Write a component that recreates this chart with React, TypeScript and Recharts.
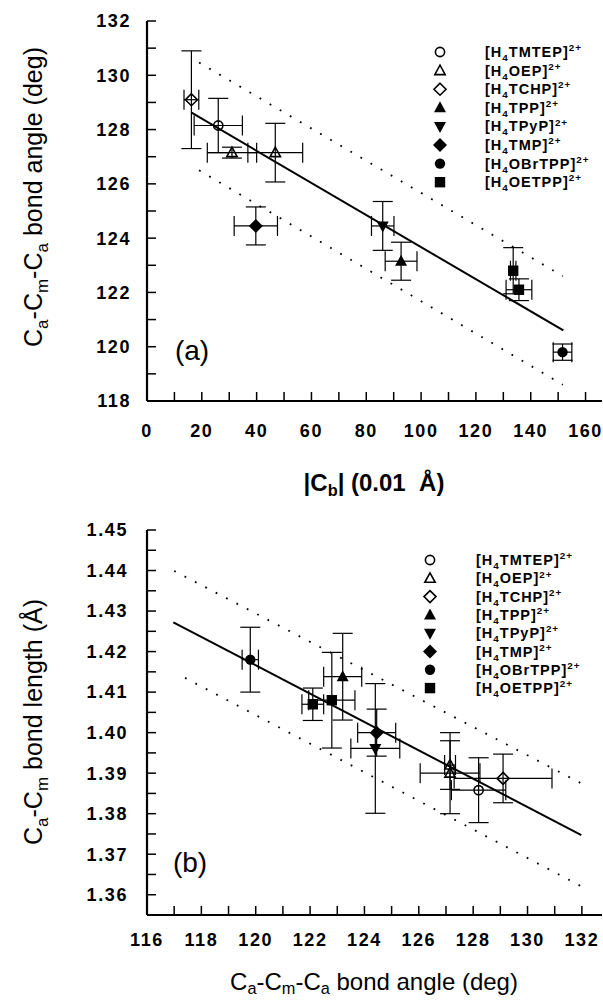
import React from 'react';
import { ScatterChart, Scatter, XAxis, YAxis, ErrorBar, ReferenceLine } from 'recharts';

const FONT = '"Liberation Sans", Arial, Helvetica, sans-serif';

// ---------- series (legend order) ----------
const seriesNames = ['TMTEP', 'OEP', 'TCHP', 'TPP', 'TPyP', 'TMP', 'OBrTPP', 'OETPP'];
const seriesShapes = ['circleOpen', 'triangleOpen', 'diamondOpen', 'triangleFilled', 'triangleDownFilled', 'diamondFilled', 'circleFilled', 'squareFilled'];

// ---------- panel (a): x = |Cb| (0.01 Å), y = Ca-Cm-Ca angle (deg) ----------
const aTMTEP = [{ x: 26, y: 128.15, ex: 8.8, ey: 1.0 }];
const aOEP = [
  { x: 31, y: 127.15, ex: 9, ey: 0.2 },
  { x: 46.8, y: 127.15, ex: 10, ey: 1.08 },
];
const aTCHP = [{ x: 16.2, y: 129.1, ex: 2.7, ey: 1.8 }];
const aTPP = [{ x: 92.7, y: 123.15, ex: 5.8, ey: 0.7 }];
const aTPyP = [{ x: 86, y: 124.45, ex: 4.1, ey: 0.9 }];
const aTMP = [{ x: 39.7, y: 124.45, ex: 7.9, ey: 0.7 }];
const aOBrTPP = [{ x: 151.6, y: 119.8, ex: 3.4, ey: 0.3 }];
const aOETPP = [
  { x: 133.6, y: 122.8, ex: 1.0, ey: 0.85 },
  { x: 135.7, y: 122.1, ex: 4.7, ey: 0.4 },
];
const aFit = [{ x: 16.1, y: 128.63 }, { x: 151.9, y: 120.6 }];
const aUpper = [{ x: 19, y: 130.47 }, { x: 151.7, y: 122.6 }];
const aLower = [{ x: 19, y: 126.5 }, { x: 151.7, y: 118.6 }];
const aXDomain = [0, 166];
const aYDomain = [118, 132];
const aXTicks = [0, 10, 20, 30, 40, 50, 60, 70, 80, 90, 100, 110, 120, 130, 140, 150, 160];
const aXLabels = [0, 20, 40, 60, 80, 100, 120, 140, 160];
const aYTicks = [118, 119, 120, 121, 122, 123, 124, 125, 126, 127, 128, 129, 130, 131, 132];
const aYLabels = [118, 120, 122, 124, 126, 128, 130, 132];

// ---------- panel (b): x = Ca-Cm-Ca angle (deg), y = Ca-Cm (Å) ----------
const bTMTEP = [{ x: 128.2, y: 1.3858, ex: 1.0, ey: 0.008 }];
const bOEP = [
  { x: 127.15, y: 1.390, ex: 1.1, ey: 0.010 },
  { x: 127.15, y: 1.392, ex: 0.2, ey: 0.006 },
];
const bTCHP = [{ x: 129.1, y: 1.3887, ex: 1.8, ey: 0.006 }];
const bTPP = [{ x: 123.2, y: 1.4138, ex: 0.7, ey: 0.0107 }];
const bTPyP = [{ x: 124.4, y: 1.3961, ex: 0.9, ey: 0.016 }];
const bTMP = [{ x: 124.45, y: 1.400, ex: 0.7, ey: 0.0058 }];
const bOBrTPP = [{ x: 119.8, y: 1.418, ex: 0.3, ey: 0.008 }];
const bOETPP = [
  { x: 122.1, y: 1.407, ex: 0.4, ey: 0.004 },
  { x: 122.8, y: 1.408, ex: 0.85, ey: 0.0118 },
];
const bFit = [{ x: 116.97, y: 1.4272 }, { x: 131.98, y: 1.3747 }];
const bUpper = [{ x: 117.0, y: 1.4399 }, { x: 132.0, y: 1.3874 }];
const bLower = [{ x: 117.4, y: 1.4135 }, { x: 132.0, y: 1.362 }];
const bXDomain = [116, 132.74];
const bYDomain = [1.355, 1.45];
const bXTicks = [116, 117, 118, 119, 120, 121, 122, 123, 124, 125, 126, 127, 128, 129, 130, 131, 132];
const bXLabels = [116, 118, 120, 122, 124, 126, 128, 130, 132];
const bYTicks = [1.355, 1.36, 1.365, 1.37, 1.375, 1.38, 1.385, 1.39, 1.395, 1.4, 1.405, 1.41, 1.415, 1.42, 1.425, 1.43, 1.435, 1.44, 1.445, 1.45];
const bYLabels = ['1.36', '1.37', '1.38', '1.39', '1.40', '1.41', '1.42', '1.43', '1.44', '1.45'];

const aSeries = [aTMTEP, aOEP, aTCHP, aTPP, aTPyP, aTMP, aOBrTPP, aOETPP];
const bSeries = [bTMTEP, bOEP, bTCHP, bTPP, bTPyP, bTMP, bOBrTPP, bOETPP];

type Part = [string, 'n' | 'sub' | 'sup'];
function rich(parts: Part[], fs: number, subShift = 0.28) {
  let shift = 0;
  return parts.map(([t, k], i) => {
    const target = k === 'sub' ? subShift * fs : k === 'sup' ? -0.4 * fs : 0;
    const dy = target - shift;
    shift = target;
    return (
      <tspan key={i} dy={dy} fontSize={k === 'n' ? fs : fs * 0.68}>
        {t}
      </tspan>
    );
  });
}

function Marker({ kind, cx, cy }: { kind: string; cx: number; cy: number }) {
  const sw = 1.6;
  switch (kind) {
    case 'circleOpen':
      return <circle cx={cx} cy={cy} r={4.6} fill="none" stroke="#000" strokeWidth={sw} />;
    case 'circleFilled':
      return <circle cx={cx} cy={cy} r={5.2} fill="#000" />;
    case 'triangleOpen':
      return <polygon points={`${cx},${cy - 5.5} ${cx + 5.2},${cy + 4} ${cx - 5.2},${cy + 4}`} fill="none" stroke="#000" strokeWidth={sw} />;
    case 'triangleFilled':
      return <polygon points={`${cx},${cy - 6.5} ${cx + 6},${cy + 4.5} ${cx - 6},${cy + 4.5}`} fill="#000" />;
    case 'triangleDownFilled':
      return <polygon points={`${cx},${cy + 6.5} ${cx + 6},${cy - 4.5} ${cx - 6},${cy - 4.5}`} fill="#000" />;
    case 'diamondOpen':
      return <polygon points={`${cx},${cy - 6} ${cx + 6},${cy} ${cx},${cy + 6} ${cx - 6},${cy}`} fill="none" stroke="#000" strokeWidth={sw} />;
    case 'diamondFilled':
      return <polygon points={`${cx},${cy - 7} ${cx + 7},${cy} ${cx},${cy + 7} ${cx - 7},${cy}`} fill="#000" />;
    case 'squareFilled':
      return <rect x={cx - 5.2} y={cy - 5.2} width={10.4} height={10.4} fill="#000" />;
    default:
      return <g />;
  }
}

const tickStyle = { fontSize: 18, fontWeight: 'bold', fill: '#000', fontFamily: FONT, letterSpacing: 1.6 };
const axisLine = { stroke: '#000', strokeWidth: 2.2 };
const tickLine = { stroke: '#000', strokeWidth: 1.5 };

const fmtInt = (labels: number[]) => (v: number) => (labels.includes(v) ? String(v) : '');
const fmtB = (v: number) => {
  const s = v.toFixed(2);
  return bYLabels.includes(s) && Math.abs(v - parseFloat(s)) < 1e-6 ? s : '';
};

function Panel({
  series, xDomain, yDomain, xTicks, yTicks, xFmt, yFmt, fit, upper, lower, height, marginTop, xAxisHeight, xTickMargin, yTickMargin, id,
}: any) {
  return (
    <ScatterChart width={603} height={height} margin={{ top: marginTop, right: 1, bottom: 0, left: 0 }}>
      <XAxis xAxisId={0} type="number" dataKey="x" domain={xDomain} ticks={xTicks} interval={0} allowDataOverflow
        tickFormatter={xFmt} tick={tickStyle} tickSize={-9} tickMargin={xTickMargin} height={xAxisHeight} axisLine={axisLine} tickLine={tickLine} />
      <XAxis xAxisId="top" orientation="top" type="number" domain={xDomain} ticks={xTicks} interval={0} allowDataOverflow
        tick={false} tickSize={-9} height={0} axisLine={axisLine} tickLine={tickLine} />
      <YAxis yAxisId={0} type="number" dataKey="y" domain={yDomain} ticks={yTicks} interval={0} allowDataOverflow
        tickFormatter={yFmt} tick={tickStyle} tickSize={-9} tickMargin={yTickMargin} width={147} axisLine={axisLine} tickLine={tickLine} />
      <YAxis yAxisId="right" orientation="right" type="number" domain={yDomain} ticks={yTicks} interval={0} allowDataOverflow
        tick={false} tickSize={-9} width={0} axisLine={axisLine} tickLine={tickLine} />
      <ReferenceLine xAxisId={0} yAxisId={0} segment={fit} stroke="#000" strokeWidth={2} ifOverflow="visible" />
      <ReferenceLine xAxisId={0} yAxisId={0} segment={upper} stroke="#000" strokeWidth={1.8} strokeDasharray="1.8 9.9" ifOverflow="visible" />
      <ReferenceLine xAxisId={0} yAxisId={0} segment={lower} stroke="#000" strokeWidth={1.8} strokeDasharray="1.8 9.9" ifOverflow="visible" />
      {series.map((data: any[], i: number) => (
        <Scatter key={id + i} name={seriesNames[i]} data={data} xAxisId={0} yAxisId={0} isAnimationActive={false}
          shape={(p: any) => <Marker kind={seriesShapes[i]} cx={p.cx} cy={p.cy} />}>
          <ErrorBar dataKey="ex" direction="x" width={10} stroke="#000" strokeWidth={1.2} isAnimationActive={false} />
          <ErrorBar dataKey="ey" direction="y" width={10} stroke="#000" strokeWidth={1.2} isAnimationActive={false} />
        </Scatter>
      ))}
    </ScatterChart>
  );
}

const angleTitle: Part[] = [['C', 'n'], ['a', 'sub'], ['-C', 'n'], ['m', 'sub'], ['-C', 'n'], ['a', 'sub'], [' bond angle (deg)', 'n']];
const cbTitle: Part[] = [['|C', 'n'], ['b', 'sub'], ['| (0.01\u00A0\u00A0Å)', 'n']];
const bondTitle: Part[] = [['C', 'n'], ['a', 'sub'], ['-C', 'n'], ['m', 'sub'], [' bond length (Å)', 'n']];

function Legend({ x0, tx0, y0, dy }: { x0: number; tx0: number; y0: number; dy: number }) {
  return (
    <g>
      {seriesNames.map((n, i) => (
        <g key={n}>
          <Marker kind={seriesShapes[i]} cx={x0} cy={y0 + i * dy} />
          <text x={tx0} y={y0 + i * dy + 5} fontSize={14.5} fontWeight="bold" fontFamily={FONT} letterSpacing={1} fill="#000">
            {rich([['[H', 'n'], ['4', 'sub'], [n + ']', 'n'], ['2+', 'sup']], 14.5)}
          </text>
        </g>
      ))}
    </g>
  );
}

export default function App() {
  return (
    <div style={{ position: 'absolute', left: 0, top: 0, width: 603, height: 1003, background: '#fff' }}>
      <div style={{ position: 'absolute', left: 0, top: 0 }}>
        <Panel id="a" series={aSeries} xDomain={aXDomain} yDomain={aYDomain} xTicks={aXTicks} yTicks={aYTicks}
          xFmt={fmtInt(aXLabels)} yFmt={fmtInt(aYLabels)} fit={aFit} upper={aUpper} lower={aLower}
          height={500} marginTop={21} xAxisHeight={99} xTickMargin={32} yTickMargin={25} />
      </div>
      <div style={{ position: 'absolute', left: 0, top: 500 }}>
        <Panel id="b" series={bSeries} xDomain={bXDomain} yDomain={bYDomain} xTicks={bXTicks} yTicks={bYTicks}
          xFmt={fmtInt(bXLabels)} yFmt={fmtB} fit={bFit} upper={bUpper} lower={bLower}
          height={503} marginTop={30} xAxisHeight={88} xTickMargin={27} yTickMargin={28} />
      </div>
      <svg width={603} height={1003} style={{ position: 'absolute', left: 0, top: 0, pointerEvents: 'none' }}>
        <text transform="rotate(-90, 42, 197)" x={42} y={197} textAnchor="middle" fontSize={25} fontFamily={FONT} fill="#000">
          {rich(angleTitle, 25, 0.22)}
        </text>
        <text x={374} y={491} textAnchor="middle" fontSize={24} fontFamily={FONT} fontWeight="bold" fill="#000">
          {rich(cbTitle, 24, 0.22)}
        </text>
        <text transform="rotate(-90, 42, 722)" x={42} y={722} textAnchor="middle" fontSize={25} fontFamily={FONT} fill="#000">
          {rich(bondTitle, 25, 0.22)}
        </text>
        <text x={374} y={990} textAnchor="middle" fontSize={24} fontFamily={FONT} fill="#000">
          {rich(angleTitle, 24, 0.18)}
        </text>
        <text x={192} y={360} textAnchor="middle" fontSize={28} fontFamily={FONT} fill="#000">(a)</text>
        <text x={190} y={872} textAnchor="middle" fontSize={28} fontFamily={FONT} fill="#000">(b)</text>
        <Legend x0={440} tx0={485} y0={52} dy={18.6} />
        <Legend x0={430} tx0={476} y0={560} dy={18.3} />
      </svg>
    </div>
  );
}
